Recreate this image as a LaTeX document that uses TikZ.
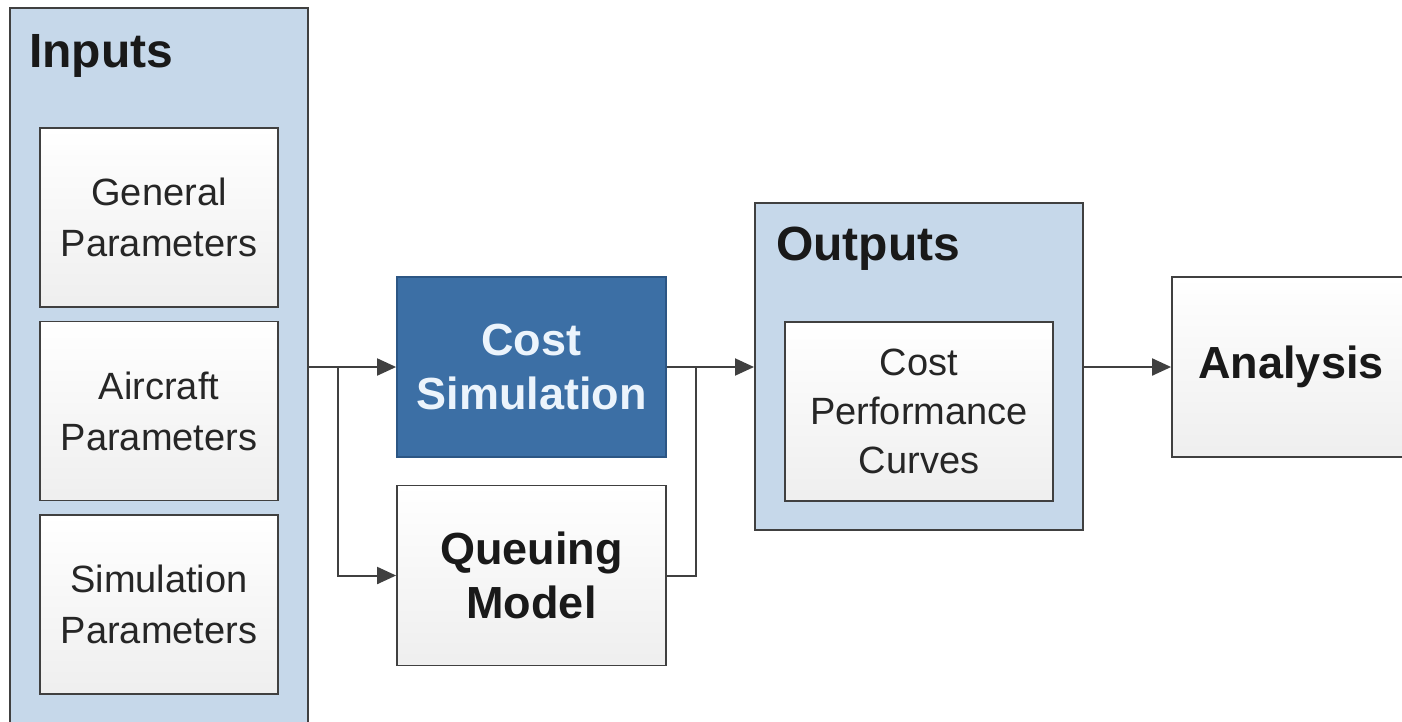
\documentclass[tikz,border=0pt]{standalone}
\usepackage{fontspec}
\setmainfont{Liberation Sans}
\usetikzlibrary{arrows.meta,calc}
\definecolor{panelblue}{RGB}{198,216,234}
\definecolor{simblue}{RGB}{60,111,165}
\definecolor{simedge}{RGB}{44,86,132}
\definecolor{simtext}{RGB}{236,244,252}
\definecolor{inkgray}{RGB}{64,64,64}
\tikzset{
  panel/.style={draw=inkgray, line width=2pt, fill=panelblue},
  paneltitle/.style={anchor=base west, inner sep=0pt, font=\bfseries\fontsize{48}{56}\selectfont, text=black!90},
  parambox/.style={draw=inkgray, line width=1.8pt, top color=white, bottom color=gray!13,
    minimum width=238pt, minimum height=179pt, align=center, inner sep=0pt,
    font=\fontsize{38}{51}\selectfont, text=black!85},
  procbox/.style={draw=inkgray, line width=1.8pt, top color=white, bottom color=gray!13,
    minimum width=269pt, minimum height=180pt, align=center, inner sep=0pt,
    font=\bfseries\fontsize{45}{54}\selectfont, text=black!90},
  simbox/.style={procbox, draw=simedge, top color=simblue, bottom color=simblue, text=simtext},
  conn/.style={draw=inkgray, line width=2pt, -{Triangle[length=19pt,width=17pt]}},
  wire/.style={draw=inkgray, line width=2pt},
}
\begin{document}
\begin{tikzpicture}[x=1pt,y=-1pt]
  \useasboundingbox (0,0) rectangle (1402,721);
  \fill[white] (0,0) rectangle (1402,721);
  \clip (0,0) rectangle (1402,721);

  % input panel with its three parameter boxes
  \node[panel, minimum width=298pt, minimum height=732pt, inner sep=0pt] (inputs) at (159,374) {};
  \node[paneltitle] (inputstitle) at (29,67) {Inputs};
  \node[parambox] (general) at (159,217.5) {General\\Parameters};
  \node[parambox] (aircraft) at (159,411) {Aircraft\\Parameters};
  \node[parambox] (simparams) at (159,604.5) {Simulation\\Parameters};

  % processing blocks
  \node[simbox] (costsim) at (531.5,367) {Cost\\Simulation};
  \node[procbox] (queue) at (531.5,575.5) {Queuing\\Model};

  % output panel
  \node[panel, minimum width=328pt, minimum height=327pt, inner sep=0pt] (outputs) at (919,366.5) {};
  \node[paneltitle] (outputstitle) at (776,260) {Outputs};
  \node[parambox, minimum width=268pt, minimum height=179pt, font=\fontsize{38}{49}\selectfont] (curves) at (919,411.5) {Cost\\Performance\\Curves};

  % analysis block
  \node[procbox, minimum width=238pt] (analysis) at (1291,367) {Analysis};

  % connectors
  \coordinate (split) at (338,367);
  \coordinate (merge) at (696,367);
  \draw[conn] (inputs.east |- costsim.west) -- (costsim.west);
  \draw[conn] (split) |- (queue.west);
  \draw[conn] (costsim.east) -- (outputs.west |- costsim.east);
  \draw[wire] (queue.east) -| (merge);
  \draw[conn] (outputs.east |- analysis.west) -- (analysis.west);
\end{tikzpicture}
\end{document}
